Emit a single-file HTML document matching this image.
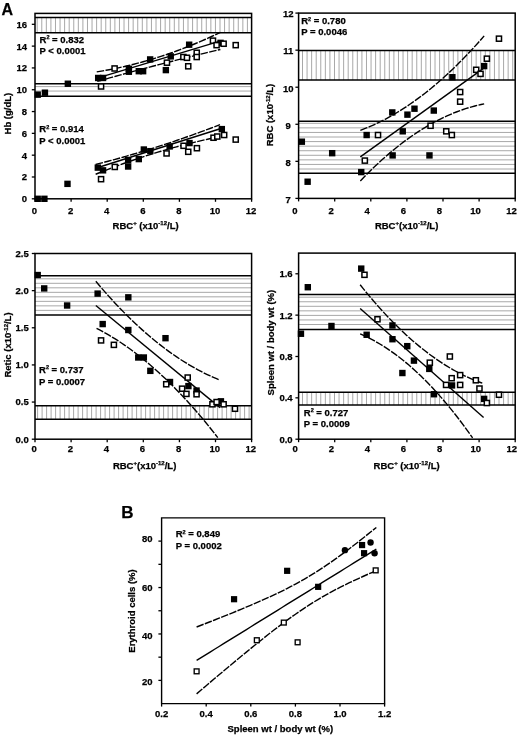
<!DOCTYPE html>
<html><head><meta charset="utf-8"><style>
html,body{margin:0;padding:0;background:#fff;}
svg{display:block;filter:blur(0.3px);}
text{font-family:"Liberation Sans",sans-serif;font-weight:bold;fill:#000;stroke:#000;stroke-width:0.25px;}
</style></head><body>
<svg width="520" height="739" viewBox="0 0 520 739">
<rect width="520" height="739" fill="#fff"/>
<line x1="37.20" y1="17.40" x2="37.20" y2="32.70" stroke="#a8a8a8" stroke-width="1" />
<line x1="41.77" y1="17.40" x2="41.77" y2="32.70" stroke="#a8a8a8" stroke-width="1" />
<line x1="46.34" y1="17.40" x2="46.34" y2="32.70" stroke="#a8a8a8" stroke-width="1" />
<line x1="50.91" y1="17.40" x2="50.91" y2="32.70" stroke="#a8a8a8" stroke-width="1" />
<line x1="55.48" y1="17.40" x2="55.48" y2="32.70" stroke="#a8a8a8" stroke-width="1" />
<line x1="60.05" y1="17.40" x2="60.05" y2="32.70" stroke="#a8a8a8" stroke-width="1" />
<line x1="64.62" y1="17.40" x2="64.62" y2="32.70" stroke="#a8a8a8" stroke-width="1" />
<line x1="69.19" y1="17.40" x2="69.19" y2="32.70" stroke="#a8a8a8" stroke-width="1" />
<line x1="73.76" y1="17.40" x2="73.76" y2="32.70" stroke="#a8a8a8" stroke-width="1" />
<line x1="78.33" y1="17.40" x2="78.33" y2="32.70" stroke="#a8a8a8" stroke-width="1" />
<line x1="82.90" y1="17.40" x2="82.90" y2="32.70" stroke="#a8a8a8" stroke-width="1" />
<line x1="87.47" y1="17.40" x2="87.47" y2="32.70" stroke="#a8a8a8" stroke-width="1" />
<line x1="92.04" y1="17.40" x2="92.04" y2="32.70" stroke="#a8a8a8" stroke-width="1" />
<line x1="96.61" y1="17.40" x2="96.61" y2="32.70" stroke="#a8a8a8" stroke-width="1" />
<line x1="101.18" y1="17.40" x2="101.18" y2="32.70" stroke="#a8a8a8" stroke-width="1" />
<line x1="105.75" y1="17.40" x2="105.75" y2="32.70" stroke="#a8a8a8" stroke-width="1" />
<line x1="110.32" y1="17.40" x2="110.32" y2="32.70" stroke="#a8a8a8" stroke-width="1" />
<line x1="114.89" y1="17.40" x2="114.89" y2="32.70" stroke="#a8a8a8" stroke-width="1" />
<line x1="119.46" y1="17.40" x2="119.46" y2="32.70" stroke="#a8a8a8" stroke-width="1" />
<line x1="124.03" y1="17.40" x2="124.03" y2="32.70" stroke="#a8a8a8" stroke-width="1" />
<line x1="128.60" y1="17.40" x2="128.60" y2="32.70" stroke="#a8a8a8" stroke-width="1" />
<line x1="133.17" y1="17.40" x2="133.17" y2="32.70" stroke="#a8a8a8" stroke-width="1" />
<line x1="137.74" y1="17.40" x2="137.74" y2="32.70" stroke="#a8a8a8" stroke-width="1" />
<line x1="142.31" y1="17.40" x2="142.31" y2="32.70" stroke="#a8a8a8" stroke-width="1" />
<line x1="146.88" y1="17.40" x2="146.88" y2="32.70" stroke="#a8a8a8" stroke-width="1" />
<line x1="151.45" y1="17.40" x2="151.45" y2="32.70" stroke="#a8a8a8" stroke-width="1" />
<line x1="156.02" y1="17.40" x2="156.02" y2="32.70" stroke="#a8a8a8" stroke-width="1" />
<line x1="160.59" y1="17.40" x2="160.59" y2="32.70" stroke="#a8a8a8" stroke-width="1" />
<line x1="165.16" y1="17.40" x2="165.16" y2="32.70" stroke="#a8a8a8" stroke-width="1" />
<line x1="169.73" y1="17.40" x2="169.73" y2="32.70" stroke="#a8a8a8" stroke-width="1" />
<line x1="174.30" y1="17.40" x2="174.30" y2="32.70" stroke="#a8a8a8" stroke-width="1" />
<line x1="178.87" y1="17.40" x2="178.87" y2="32.70" stroke="#a8a8a8" stroke-width="1" />
<line x1="183.44" y1="17.40" x2="183.44" y2="32.70" stroke="#a8a8a8" stroke-width="1" />
<line x1="188.01" y1="17.40" x2="188.01" y2="32.70" stroke="#a8a8a8" stroke-width="1" />
<line x1="192.58" y1="17.40" x2="192.58" y2="32.70" stroke="#a8a8a8" stroke-width="1" />
<line x1="197.15" y1="17.40" x2="197.15" y2="32.70" stroke="#a8a8a8" stroke-width="1" />
<line x1="201.72" y1="17.40" x2="201.72" y2="32.70" stroke="#a8a8a8" stroke-width="1" />
<line x1="206.29" y1="17.40" x2="206.29" y2="32.70" stroke="#a8a8a8" stroke-width="1" />
<line x1="210.86" y1="17.40" x2="210.86" y2="32.70" stroke="#a8a8a8" stroke-width="1" />
<line x1="215.43" y1="17.40" x2="215.43" y2="32.70" stroke="#a8a8a8" stroke-width="1" />
<line x1="220.00" y1="17.40" x2="220.00" y2="32.70" stroke="#a8a8a8" stroke-width="1" />
<line x1="224.57" y1="17.40" x2="224.57" y2="32.70" stroke="#a8a8a8" stroke-width="1" />
<line x1="229.14" y1="17.40" x2="229.14" y2="32.70" stroke="#a8a8a8" stroke-width="1" />
<line x1="233.71" y1="17.40" x2="233.71" y2="32.70" stroke="#a8a8a8" stroke-width="1" />
<line x1="238.28" y1="17.40" x2="238.28" y2="32.70" stroke="#a8a8a8" stroke-width="1" />
<line x1="242.85" y1="17.40" x2="242.85" y2="32.70" stroke="#a8a8a8" stroke-width="1" />
<line x1="247.42" y1="17.40" x2="247.42" y2="32.70" stroke="#a8a8a8" stroke-width="1" />
<line x1="35.00" y1="17.40" x2="251.60" y2="17.40" stroke="#000" stroke-width="1.5" />
<line x1="35.00" y1="32.70" x2="251.60" y2="32.70" stroke="#000" stroke-width="1.5" />
<line x1="35.00" y1="86.60" x2="251.60" y2="86.60" stroke="#a8a8a8" stroke-width="1" />
<line x1="35.00" y1="91.05" x2="251.60" y2="91.05" stroke="#a8a8a8" stroke-width="1" />
<line x1="35.00" y1="83.70" x2="251.60" y2="83.70" stroke="#000" stroke-width="1.5" />
<line x1="35.00" y1="96.30" x2="251.60" y2="96.30" stroke="#000" stroke-width="1.5" />
<line x1="31.80" y1="198.80" x2="35.00" y2="198.80" stroke="#000" stroke-width="1.3" />
<text x="27.00" y="202.20" font-size="9.5" text-anchor="end" >0</text>
<line x1="31.80" y1="176.99" x2="35.00" y2="176.99" stroke="#000" stroke-width="1.3" />
<text x="27.00" y="180.39" font-size="9.5" text-anchor="end" >2</text>
<line x1="31.80" y1="155.18" x2="35.00" y2="155.18" stroke="#000" stroke-width="1.3" />
<text x="27.00" y="158.58" font-size="9.5" text-anchor="end" >4</text>
<line x1="31.80" y1="133.36" x2="35.00" y2="133.36" stroke="#000" stroke-width="1.3" />
<text x="27.00" y="136.76" font-size="9.5" text-anchor="end" >6</text>
<line x1="31.80" y1="111.55" x2="35.00" y2="111.55" stroke="#000" stroke-width="1.3" />
<text x="27.00" y="114.95" font-size="9.5" text-anchor="end" >8</text>
<line x1="31.80" y1="89.74" x2="35.00" y2="89.74" stroke="#000" stroke-width="1.3" />
<text x="27.00" y="93.14" font-size="9.5" text-anchor="end" >10</text>
<line x1="31.80" y1="67.93" x2="35.00" y2="67.93" stroke="#000" stroke-width="1.3" />
<text x="27.00" y="71.33" font-size="9.5" text-anchor="end" >12</text>
<line x1="31.80" y1="46.12" x2="35.00" y2="46.12" stroke="#000" stroke-width="1.3" />
<text x="27.00" y="49.52" font-size="9.5" text-anchor="end" >14</text>
<line x1="31.80" y1="24.31" x2="35.00" y2="24.31" stroke="#000" stroke-width="1.3" />
<text x="27.00" y="27.71" font-size="9.5" text-anchor="end" >16</text>
<line x1="35.00" y1="198.80" x2="35.00" y2="201.80" stroke="#000" stroke-width="1.3" />
<text x="34.50" y="214.30" font-size="9.5" text-anchor="middle" >0</text>
<line x1="71.10" y1="198.80" x2="71.10" y2="201.80" stroke="#000" stroke-width="1.3" />
<text x="70.60" y="214.30" font-size="9.5" text-anchor="middle" >2</text>
<line x1="107.20" y1="198.80" x2="107.20" y2="201.80" stroke="#000" stroke-width="1.3" />
<text x="106.70" y="214.30" font-size="9.5" text-anchor="middle" >4</text>
<line x1="143.30" y1="198.80" x2="143.30" y2="201.80" stroke="#000" stroke-width="1.3" />
<text x="142.80" y="214.30" font-size="9.5" text-anchor="middle" >6</text>
<line x1="179.40" y1="198.80" x2="179.40" y2="201.80" stroke="#000" stroke-width="1.3" />
<text x="178.90" y="214.30" font-size="9.5" text-anchor="middle" >8</text>
<line x1="215.50" y1="198.80" x2="215.50" y2="201.80" stroke="#000" stroke-width="1.3" />
<text x="215.00" y="214.30" font-size="9.5" text-anchor="middle" >10</text>
<line x1="251.60" y1="198.80" x2="251.60" y2="201.80" stroke="#000" stroke-width="1.3" />
<text x="251.10" y="214.30" font-size="9.5" text-anchor="middle" >12</text>
<path d="M96.37,78.40 L220.91,40.88" fill="none" stroke="#000" stroke-width="1.4"/>
<path d="M96.73,71.89 L99.82,71.39 L102.91,70.86 L106.00,70.31 L109.10,69.74 L112.19,69.14 L115.28,68.51 L118.37,67.86 L121.46,67.18 L124.55,66.48 L127.64,65.76 L130.73,65.01 L133.82,64.23 L136.91,63.43 L140.01,62.61 L143.10,61.76 L146.19,60.88 L149.28,59.98 L152.37,59.06 L155.46,58.11 L158.55,57.13 L161.64,56.13 L164.73,55.11 L167.83,54.06 L170.92,52.98 L174.01,51.88 L177.10,50.76 L180.19,49.61 L183.28,48.43 L186.37,47.23 L189.46,46.01 L192.55,44.76 L195.64,43.49 L198.74,42.19 L201.83,40.86 L204.92,39.51 L208.01,38.14 L211.10,36.74 L214.19,35.32 L217.28,33.87 L220.37,32.39" fill="none" stroke="#000" stroke-width="1.4" stroke-dasharray="7.5,1.4"/>
<path d="M97.27,81.41 L100.35,80.53 L103.43,79.66 L106.51,78.80 L109.58,77.94 L112.66,77.08 L115.74,76.22 L118.82,75.37 L121.89,74.53 L124.97,73.68 L128.05,72.84 L131.13,72.01 L134.20,71.18 L137.28,70.35 L140.36,69.53 L143.44,68.71 L146.51,67.89 L149.59,67.08 L152.67,66.27 L155.75,65.47 L158.82,64.67 L161.90,63.87 L164.98,63.08 L168.06,62.29 L171.13,61.50 L174.21,60.72 L177.29,59.94 L180.37,59.17 L183.44,58.40 L186.52,57.63 L189.60,56.87 L192.68,56.11 L195.75,55.36 L198.83,54.61 L201.91,53.86 L204.99,53.12 L208.06,52.38 L211.14,51.64 L214.22,50.91 L217.30,50.18 L220.37,49.46" fill="none" stroke="#000" stroke-width="1.4" stroke-dasharray="7.5,1.4"/>
<path d="M95.65,168.26 L220.91,128.46" fill="none" stroke="#000" stroke-width="1.4"/>
<path d="M95.65,164.45 L98.76,163.66 L101.87,162.86 L104.98,162.05 L108.08,161.23 L111.19,160.40 L114.30,159.56 L117.41,158.71 L120.52,157.85 L123.63,156.97 L126.74,156.09 L129.85,155.20 L132.96,154.29 L136.07,153.38 L139.18,152.45 L142.28,151.51 L145.39,150.56 L148.50,149.61 L151.61,148.64 L154.72,147.66 L157.83,146.67 L160.94,145.67 L164.05,144.66 L167.16,143.64 L170.27,142.60 L173.38,141.56 L176.48,140.51 L179.59,139.44 L182.70,138.37 L185.81,137.28 L188.92,136.19 L192.03,135.08 L195.14,133.96 L198.25,132.83 L201.36,131.70 L204.47,130.55 L207.58,129.39 L210.69,128.22 L213.79,127.03 L216.90,125.84 L220.01,124.64" fill="none" stroke="#000" stroke-width="1.4" stroke-dasharray="7.5,1.4"/>
<path d="M95.65,174.26 L98.76,173.00 L101.87,171.76 L104.98,170.53 L108.08,169.32 L111.19,168.13 L114.30,166.95 L117.41,165.79 L120.52,164.64 L123.63,163.51 L126.74,162.40 L129.85,161.30 L132.96,160.23 L136.07,159.16 L139.18,158.11 L142.28,157.08 L145.39,156.07 L148.50,155.07 L151.61,154.09 L154.72,153.13 L157.83,152.18 L160.94,151.24 L164.05,150.33 L167.16,149.43 L170.27,148.54 L173.38,147.68 L176.48,146.83 L179.59,145.99 L182.70,145.18 L185.81,144.37 L188.92,143.59 L192.03,142.82 L195.14,142.07 L198.25,141.33 L201.36,140.61 L204.47,139.91 L207.58,139.22 L210.69,138.55 L213.79,137.90 L216.90,137.26 L220.01,136.64" fill="none" stroke="#000" stroke-width="1.4" stroke-dasharray="7.5,1.4"/>
<rect x="34.51" y="91.45" width="6.4" height="6.4" fill="#000"/>
<rect x="41.73" y="89.49" width="6.4" height="6.4" fill="#000"/>
<rect x="64.65" y="80.54" width="6.4" height="6.4" fill="#000"/>
<rect x="94.98" y="74.76" width="6.4" height="6.4" fill="#000"/>
<rect x="99.85" y="74.76" width="6.4" height="6.4" fill="#000"/>
<rect x="125.66" y="68.55" width="6.4" height="6.4" fill="#000"/>
<rect x="125.66" y="65.60" width="6.4" height="6.4" fill="#000"/>
<rect x="135.59" y="68.00" width="6.4" height="6.4" fill="#000"/>
<rect x="139.92" y="68.00" width="6.4" height="6.4" fill="#000"/>
<rect x="146.96" y="56.22" width="6.4" height="6.4" fill="#000"/>
<rect x="162.66" y="66.91" width="6.4" height="6.4" fill="#000"/>
<rect x="167.54" y="53.17" width="6.4" height="6.4" fill="#000"/>
<rect x="185.95" y="41.50" width="6.4" height="6.4" fill="#000"/>
<rect x="217.35" y="39.65" width="6.4" height="6.4" fill="#000"/>
<rect x="34.51" y="195.60" width="6.4" height="6.4" fill="#000"/>
<rect x="41.19" y="195.60" width="6.4" height="6.4" fill="#000"/>
<rect x="64.29" y="180.66" width="6.4" height="6.4" fill="#000"/>
<rect x="94.61" y="164.41" width="6.4" height="6.4" fill="#000"/>
<rect x="99.85" y="167.14" width="6.4" height="6.4" fill="#000"/>
<rect x="124.94" y="156.99" width="6.4" height="6.4" fill="#000"/>
<rect x="124.94" y="163.32" width="6.4" height="6.4" fill="#000"/>
<rect x="135.59" y="155.90" width="6.4" height="6.4" fill="#000"/>
<rect x="140.64" y="146.31" width="6.4" height="6.4" fill="#000"/>
<rect x="147.14" y="147.94" width="6.4" height="6.4" fill="#000"/>
<rect x="166.45" y="143.25" width="6.4" height="6.4" fill="#000"/>
<rect x="186.31" y="139.87" width="6.4" height="6.4" fill="#000"/>
<rect x="218.62" y="125.91" width="6.4" height="6.4" fill="#000"/>
<rect x="98.51" y="83.92" width="5.10" height="5.10" fill="#fff" stroke="#000" stroke-width="1.5"/>
<rect x="112.05" y="65.92" width="5.10" height="5.10" fill="#fff" stroke="#000" stroke-width="1.5"/>
<rect x="164.40" y="60.14" width="5.10" height="5.10" fill="#fff" stroke="#000" stroke-width="1.5"/>
<rect x="180.82" y="54.47" width="5.10" height="5.10" fill="#fff" stroke="#000" stroke-width="1.5"/>
<rect x="184.43" y="55.24" width="5.10" height="5.10" fill="#fff" stroke="#000" stroke-width="1.5"/>
<rect x="185.69" y="63.74" width="5.10" height="5.10" fill="#fff" stroke="#000" stroke-width="1.5"/>
<rect x="194.18" y="50.22" width="5.10" height="5.10" fill="#fff" stroke="#000" stroke-width="1.5"/>
<rect x="194.18" y="54.47" width="5.10" height="5.10" fill="#fff" stroke="#000" stroke-width="1.5"/>
<rect x="210.42" y="38.11" width="5.10" height="5.10" fill="#fff" stroke="#000" stroke-width="1.5"/>
<rect x="214.03" y="42.59" width="5.10" height="5.10" fill="#fff" stroke="#000" stroke-width="1.5"/>
<rect x="221.07" y="41.17" width="5.10" height="5.10" fill="#fff" stroke="#000" stroke-width="1.5"/>
<rect x="233.17" y="42.59" width="5.10" height="5.10" fill="#fff" stroke="#000" stroke-width="1.5"/>
<rect x="98.51" y="176.62" width="5.10" height="5.10" fill="#fff" stroke="#000" stroke-width="1.5"/>
<rect x="112.23" y="164.40" width="5.10" height="5.10" fill="#fff" stroke="#000" stroke-width="1.5"/>
<rect x="164.03" y="150.88" width="5.10" height="5.10" fill="#fff" stroke="#000" stroke-width="1.5"/>
<rect x="181.00" y="143.25" width="5.10" height="5.10" fill="#fff" stroke="#000" stroke-width="1.5"/>
<rect x="185.69" y="149.25" width="5.10" height="5.10" fill="#fff" stroke="#000" stroke-width="1.5"/>
<rect x="194.36" y="145.65" width="5.10" height="5.10" fill="#fff" stroke="#000" stroke-width="1.5"/>
<rect x="210.96" y="135.18" width="5.10" height="5.10" fill="#fff" stroke="#000" stroke-width="1.5"/>
<rect x="214.75" y="133.98" width="5.10" height="5.10" fill="#fff" stroke="#000" stroke-width="1.5"/>
<rect x="221.61" y="132.45" width="5.10" height="5.10" fill="#fff" stroke="#000" stroke-width="1.5"/>
<rect x="233.17" y="137.03" width="5.10" height="5.10" fill="#fff" stroke="#000" stroke-width="1.5"/>
<rect x="35.00" y="13.40" width="216.60" height="185.40" fill="none" stroke="#000" stroke-width="1.5"/>
<text x="39.50" y="42.50" font-size="9.5" text-anchor="start" >R<tspan font-size="5.5" dy="-3.2">2</tspan><tspan dy="3.2"> = 0.832</tspan></text>
<text x="39.50" y="53.80" font-size="9.5" text-anchor="start" >P &lt; 0.0001</text>
<text x="39.30" y="132.00" font-size="9.5" text-anchor="start" >R<tspan font-size="5.5" dy="-3.2">2</tspan><tspan dy="3.2"> = 0.914</tspan></text>
<text x="39.30" y="143.70" font-size="9.5" text-anchor="start" >P &lt; 0.0001</text>
<text x="145.60" y="228.80" font-size="9.5" text-anchor="middle" >RBC<tspan font-size="6" dy="-3.5">+</tspan><tspan dy="3.5"> (x10</tspan><tspan font-size="6" dy="-3.5">-12</tspan><tspan dy="3.5">/L)</tspan></text>
<text x="0.00" y="0.00" font-size="9.5" text-anchor="middle" transform="translate(11.1,113.6) rotate(-90)">Hb (g/dL)</text>
<text x="1.50" y="15.20" font-size="16" text-anchor="start" >A</text>
<line x1="302.50" y1="50.50" x2="302.50" y2="80.10" stroke="#a8a8a8" stroke-width="1" />
<line x1="307.07" y1="50.50" x2="307.07" y2="80.10" stroke="#a8a8a8" stroke-width="1" />
<line x1="311.64" y1="50.50" x2="311.64" y2="80.10" stroke="#a8a8a8" stroke-width="1" />
<line x1="316.21" y1="50.50" x2="316.21" y2="80.10" stroke="#a8a8a8" stroke-width="1" />
<line x1="320.78" y1="50.50" x2="320.78" y2="80.10" stroke="#a8a8a8" stroke-width="1" />
<line x1="325.35" y1="50.50" x2="325.35" y2="80.10" stroke="#a8a8a8" stroke-width="1" />
<line x1="329.92" y1="50.50" x2="329.92" y2="80.10" stroke="#a8a8a8" stroke-width="1" />
<line x1="334.49" y1="50.50" x2="334.49" y2="80.10" stroke="#a8a8a8" stroke-width="1" />
<line x1="339.06" y1="50.50" x2="339.06" y2="80.10" stroke="#a8a8a8" stroke-width="1" />
<line x1="343.63" y1="50.50" x2="343.63" y2="80.10" stroke="#a8a8a8" stroke-width="1" />
<line x1="348.20" y1="50.50" x2="348.20" y2="80.10" stroke="#a8a8a8" stroke-width="1" />
<line x1="352.77" y1="50.50" x2="352.77" y2="80.10" stroke="#a8a8a8" stroke-width="1" />
<line x1="357.34" y1="50.50" x2="357.34" y2="80.10" stroke="#a8a8a8" stroke-width="1" />
<line x1="361.91" y1="50.50" x2="361.91" y2="80.10" stroke="#a8a8a8" stroke-width="1" />
<line x1="366.48" y1="50.50" x2="366.48" y2="80.10" stroke="#a8a8a8" stroke-width="1" />
<line x1="371.05" y1="50.50" x2="371.05" y2="80.10" stroke="#a8a8a8" stroke-width="1" />
<line x1="375.62" y1="50.50" x2="375.62" y2="80.10" stroke="#a8a8a8" stroke-width="1" />
<line x1="380.19" y1="50.50" x2="380.19" y2="80.10" stroke="#a8a8a8" stroke-width="1" />
<line x1="384.76" y1="50.50" x2="384.76" y2="80.10" stroke="#a8a8a8" stroke-width="1" />
<line x1="389.33" y1="50.50" x2="389.33" y2="80.10" stroke="#a8a8a8" stroke-width="1" />
<line x1="393.90" y1="50.50" x2="393.90" y2="80.10" stroke="#a8a8a8" stroke-width="1" />
<line x1="398.47" y1="50.50" x2="398.47" y2="80.10" stroke="#a8a8a8" stroke-width="1" />
<line x1="403.04" y1="50.50" x2="403.04" y2="80.10" stroke="#a8a8a8" stroke-width="1" />
<line x1="407.61" y1="50.50" x2="407.61" y2="80.10" stroke="#a8a8a8" stroke-width="1" />
<line x1="412.18" y1="50.50" x2="412.18" y2="80.10" stroke="#a8a8a8" stroke-width="1" />
<line x1="416.75" y1="50.50" x2="416.75" y2="80.10" stroke="#a8a8a8" stroke-width="1" />
<line x1="421.32" y1="50.50" x2="421.32" y2="80.10" stroke="#a8a8a8" stroke-width="1" />
<line x1="425.89" y1="50.50" x2="425.89" y2="80.10" stroke="#a8a8a8" stroke-width="1" />
<line x1="430.46" y1="50.50" x2="430.46" y2="80.10" stroke="#a8a8a8" stroke-width="1" />
<line x1="435.03" y1="50.50" x2="435.03" y2="80.10" stroke="#a8a8a8" stroke-width="1" />
<line x1="439.60" y1="50.50" x2="439.60" y2="80.10" stroke="#a8a8a8" stroke-width="1" />
<line x1="444.17" y1="50.50" x2="444.17" y2="80.10" stroke="#a8a8a8" stroke-width="1" />
<line x1="448.74" y1="50.50" x2="448.74" y2="80.10" stroke="#a8a8a8" stroke-width="1" />
<line x1="453.31" y1="50.50" x2="453.31" y2="80.10" stroke="#a8a8a8" stroke-width="1" />
<line x1="457.88" y1="50.50" x2="457.88" y2="80.10" stroke="#a8a8a8" stroke-width="1" />
<line x1="462.45" y1="50.50" x2="462.45" y2="80.10" stroke="#a8a8a8" stroke-width="1" />
<line x1="467.02" y1="50.50" x2="467.02" y2="80.10" stroke="#a8a8a8" stroke-width="1" />
<line x1="471.59" y1="50.50" x2="471.59" y2="80.10" stroke="#a8a8a8" stroke-width="1" />
<line x1="476.16" y1="50.50" x2="476.16" y2="80.10" stroke="#a8a8a8" stroke-width="1" />
<line x1="480.73" y1="50.50" x2="480.73" y2="80.10" stroke="#a8a8a8" stroke-width="1" />
<line x1="485.30" y1="50.50" x2="485.30" y2="80.10" stroke="#a8a8a8" stroke-width="1" />
<line x1="489.87" y1="50.50" x2="489.87" y2="80.10" stroke="#a8a8a8" stroke-width="1" />
<line x1="494.44" y1="50.50" x2="494.44" y2="80.10" stroke="#a8a8a8" stroke-width="1" />
<line x1="499.01" y1="50.50" x2="499.01" y2="80.10" stroke="#a8a8a8" stroke-width="1" />
<line x1="503.58" y1="50.50" x2="503.58" y2="80.10" stroke="#a8a8a8" stroke-width="1" />
<line x1="508.15" y1="50.50" x2="508.15" y2="80.10" stroke="#a8a8a8" stroke-width="1" />
<line x1="512.72" y1="50.50" x2="512.72" y2="80.10" stroke="#a8a8a8" stroke-width="1" />
<line x1="298.60" y1="50.50" x2="515.20" y2="50.50" stroke="#000" stroke-width="1.5" />
<line x1="298.60" y1="80.10" x2="515.20" y2="80.10" stroke="#000" stroke-width="1.5" />
<line x1="298.60" y1="123.30" x2="515.20" y2="123.30" stroke="#a8a8a8" stroke-width="1" />
<line x1="298.60" y1="127.87" x2="515.20" y2="127.87" stroke="#a8a8a8" stroke-width="1" />
<line x1="298.60" y1="132.44" x2="515.20" y2="132.44" stroke="#a8a8a8" stroke-width="1" />
<line x1="298.60" y1="137.01" x2="515.20" y2="137.01" stroke="#a8a8a8" stroke-width="1" />
<line x1="298.60" y1="141.58" x2="515.20" y2="141.58" stroke="#a8a8a8" stroke-width="1" />
<line x1="298.60" y1="146.15" x2="515.20" y2="146.15" stroke="#a8a8a8" stroke-width="1" />
<line x1="298.60" y1="150.72" x2="515.20" y2="150.72" stroke="#a8a8a8" stroke-width="1" />
<line x1="298.60" y1="155.29" x2="515.20" y2="155.29" stroke="#a8a8a8" stroke-width="1" />
<line x1="298.60" y1="159.86" x2="515.20" y2="159.86" stroke="#a8a8a8" stroke-width="1" />
<line x1="298.60" y1="164.43" x2="515.20" y2="164.43" stroke="#a8a8a8" stroke-width="1" />
<line x1="298.60" y1="169.00" x2="515.20" y2="169.00" stroke="#a8a8a8" stroke-width="1" />
<line x1="298.60" y1="121.30" x2="515.20" y2="121.30" stroke="#000" stroke-width="1.5" />
<line x1="298.60" y1="173.20" x2="515.20" y2="173.20" stroke="#000" stroke-width="1.5" />
<line x1="295.40" y1="198.40" x2="298.60" y2="198.40" stroke="#000" stroke-width="1.3" />
<text x="288.20" y="202.70" font-size="9.5" text-anchor="middle" >7</text>
<line x1="295.40" y1="161.34" x2="298.60" y2="161.34" stroke="#000" stroke-width="1.3" />
<text x="288.20" y="165.64" font-size="9.5" text-anchor="middle" >8</text>
<line x1="295.40" y1="124.28" x2="298.60" y2="124.28" stroke="#000" stroke-width="1.3" />
<text x="288.20" y="128.58" font-size="9.5" text-anchor="middle" >9</text>
<line x1="295.40" y1="87.22" x2="298.60" y2="87.22" stroke="#000" stroke-width="1.3" />
<text x="288.20" y="91.52" font-size="9.5" text-anchor="middle" >10</text>
<line x1="295.40" y1="50.16" x2="298.60" y2="50.16" stroke="#000" stroke-width="1.3" />
<text x="288.20" y="54.46" font-size="9.5" text-anchor="middle" >11</text>
<line x1="295.40" y1="13.10" x2="298.60" y2="13.10" stroke="#000" stroke-width="1.3" />
<text x="288.20" y="17.40" font-size="9.5" text-anchor="middle" >12</text>
<line x1="298.60" y1="198.40" x2="298.60" y2="201.40" stroke="#000" stroke-width="1.3" />
<text x="295.00" y="214.30" font-size="9.5" text-anchor="middle" >0</text>
<line x1="334.70" y1="198.40" x2="334.70" y2="201.40" stroke="#000" stroke-width="1.3" />
<text x="331.10" y="214.30" font-size="9.5" text-anchor="middle" >2</text>
<line x1="370.80" y1="198.40" x2="370.80" y2="201.40" stroke="#000" stroke-width="1.3" />
<text x="367.20" y="214.30" font-size="9.5" text-anchor="middle" >4</text>
<line x1="406.90" y1="198.40" x2="406.90" y2="201.40" stroke="#000" stroke-width="1.3" />
<text x="403.30" y="214.30" font-size="9.5" text-anchor="middle" >6</text>
<line x1="443.00" y1="198.40" x2="443.00" y2="201.40" stroke="#000" stroke-width="1.3" />
<text x="439.40" y="214.30" font-size="9.5" text-anchor="middle" >8</text>
<line x1="479.10" y1="198.40" x2="479.10" y2="201.40" stroke="#000" stroke-width="1.3" />
<text x="475.50" y="214.30" font-size="9.5" text-anchor="middle" >10</text>
<line x1="515.20" y1="198.40" x2="515.20" y2="201.40" stroke="#000" stroke-width="1.3" />
<text x="511.60" y="214.30" font-size="9.5" text-anchor="middle" >12</text>
<path d="M360.33,156.89 L484.52,67.58" fill="none" stroke="#000" stroke-width="1.4"/>
<path d="M360.33,130.31 L363.43,129.14 L366.52,127.92 L369.62,126.63 L372.71,125.28 L375.81,123.86 L378.90,122.39 L382.00,120.86 L385.10,119.26 L388.19,117.60 L391.29,115.89 L394.38,114.11 L397.48,112.27 L400.57,110.37 L403.67,108.40 L406.76,106.38 L409.86,104.29 L412.96,102.15 L416.05,99.94 L419.15,97.67 L422.24,95.34 L425.34,92.95 L428.43,90.50 L431.53,87.99 L434.62,85.41 L437.72,82.78 L440.82,80.08 L443.91,77.32 L447.01,74.50 L450.10,71.62 L453.20,68.68 L456.29,65.68 L459.39,62.61 L462.48,59.49 L465.58,56.30 L468.68,53.06 L471.77,49.75 L474.87,46.38 L477.96,42.95 L481.06,39.45 L484.15,35.90" fill="none" stroke="#000" stroke-width="1.4" stroke-dasharray="7.5,1.4"/>
<path d="M360.33,180.90 L363.43,177.69 L366.52,174.54 L369.62,171.46 L372.71,168.45 L375.81,165.50 L378.90,162.62 L382.00,159.80 L385.10,157.05 L388.19,154.36 L391.29,151.74 L394.38,149.19 L397.48,146.70 L400.57,144.28 L403.67,141.93 L406.76,139.64 L409.86,137.42 L412.96,135.26 L416.05,133.17 L419.15,131.14 L422.24,129.18 L425.34,127.29 L428.43,125.46 L431.53,123.70 L434.62,122.01 L437.72,120.38 L440.82,118.81 L443.91,117.32 L447.01,115.89 L450.10,114.52 L453.20,113.22 L456.29,111.99 L459.39,110.82 L462.48,109.72 L465.58,108.69 L468.68,107.72 L471.77,106.81 L474.87,105.98 L477.96,105.20 L481.06,104.50 L484.15,103.86" fill="none" stroke="#000" stroke-width="1.4" stroke-dasharray="7.5,1.4"/>
<rect x="298.65" y="138.50" width="6.4" height="6.4" fill="#000"/>
<rect x="304.43" y="178.52" width="6.4" height="6.4" fill="#000"/>
<rect x="328.97" y="149.99" width="6.4" height="6.4" fill="#000"/>
<rect x="358.03" y="168.89" width="6.4" height="6.4" fill="#000"/>
<rect x="363.45" y="131.83" width="6.4" height="6.4" fill="#000"/>
<rect x="389.44" y="152.21" width="6.4" height="6.4" fill="#000"/>
<rect x="389.08" y="109.22" width="6.4" height="6.4" fill="#000"/>
<rect x="399.55" y="128.12" width="6.4" height="6.4" fill="#000"/>
<rect x="404.24" y="111.44" width="6.4" height="6.4" fill="#000"/>
<rect x="411.28" y="105.51" width="6.4" height="6.4" fill="#000"/>
<rect x="426.26" y="152.21" width="6.4" height="6.4" fill="#000"/>
<rect x="430.59" y="107.37" width="6.4" height="6.4" fill="#000"/>
<rect x="449.19" y="74.01" width="6.4" height="6.4" fill="#000"/>
<rect x="480.95" y="62.90" width="6.4" height="6.4" fill="#000"/>
<rect x="362.29" y="158.05" width="5.10" height="5.10" fill="#fff" stroke="#000" stroke-width="1.5"/>
<rect x="375.47" y="132.48" width="5.10" height="5.10" fill="#fff" stroke="#000" stroke-width="1.5"/>
<rect x="428.00" y="123.21" width="5.10" height="5.10" fill="#fff" stroke="#000" stroke-width="1.5"/>
<rect x="443.70" y="128.77" width="5.10" height="5.10" fill="#fff" stroke="#000" stroke-width="1.5"/>
<rect x="449.29" y="132.48" width="5.10" height="5.10" fill="#fff" stroke="#000" stroke-width="1.5"/>
<rect x="457.60" y="89.49" width="5.10" height="5.10" fill="#fff" stroke="#000" stroke-width="1.5"/>
<rect x="457.60" y="99.12" width="5.10" height="5.10" fill="#fff" stroke="#000" stroke-width="1.5"/>
<rect x="473.66" y="67.25" width="5.10" height="5.10" fill="#fff" stroke="#000" stroke-width="1.5"/>
<rect x="477.99" y="71.33" width="5.10" height="5.10" fill="#fff" stroke="#000" stroke-width="1.5"/>
<rect x="484.31" y="56.13" width="5.10" height="5.10" fill="#fff" stroke="#000" stroke-width="1.5"/>
<rect x="496.41" y="36.12" width="5.10" height="5.10" fill="#fff" stroke="#000" stroke-width="1.5"/>
<rect x="298.60" y="13.10" width="216.60" height="185.30" fill="none" stroke="#000" stroke-width="1.5"/>
<text x="301.20" y="23.80" font-size="9.5" text-anchor="start" >R<tspan font-size="5.5" dy="-3.2">2</tspan><tspan dy="3.2"> = 0.780</tspan></text>
<text x="301.20" y="34.80" font-size="9.5" text-anchor="start" >P = 0.0046</text>
<text x="406.60" y="228.80" font-size="9.5" text-anchor="middle" >RBC<tspan font-size="6" dy="-3.5">+</tspan><tspan dy="3.5">(x10</tspan><tspan font-size="6" dy="-3.5">-12</tspan><tspan dy="3.5">/L)</tspan></text>
<text x="0.00" y="0.00" font-size="9.5" text-anchor="middle" transform="translate(273.4,115) rotate(-90)">RBC (x10<tspan font-size="6" dy="-3.5">-12</tspan><tspan dy="3.5">/L)</tspan></text>
<line x1="35.00" y1="278.80" x2="251.60" y2="278.80" stroke="#a8a8a8" stroke-width="1" />
<line x1="35.00" y1="283.31" x2="251.60" y2="283.31" stroke="#a8a8a8" stroke-width="1" />
<line x1="35.00" y1="287.82" x2="251.60" y2="287.82" stroke="#a8a8a8" stroke-width="1" />
<line x1="35.00" y1="292.33" x2="251.60" y2="292.33" stroke="#a8a8a8" stroke-width="1" />
<line x1="35.00" y1="296.84" x2="251.60" y2="296.84" stroke="#a8a8a8" stroke-width="1" />
<line x1="35.00" y1="301.35" x2="251.60" y2="301.35" stroke="#a8a8a8" stroke-width="1" />
<line x1="35.00" y1="305.86" x2="251.60" y2="305.86" stroke="#a8a8a8" stroke-width="1" />
<line x1="35.00" y1="310.37" x2="251.60" y2="310.37" stroke="#a8a8a8" stroke-width="1" />
<line x1="35.00" y1="275.80" x2="251.60" y2="275.80" stroke="#000" stroke-width="1.5" />
<line x1="35.00" y1="315.00" x2="251.60" y2="315.00" stroke="#000" stroke-width="1.5" />
<line x1="37.60" y1="405.80" x2="37.60" y2="419.30" stroke="#a8a8a8" stroke-width="1" />
<line x1="42.10" y1="405.80" x2="42.10" y2="419.30" stroke="#a8a8a8" stroke-width="1" />
<line x1="46.60" y1="405.80" x2="46.60" y2="419.30" stroke="#a8a8a8" stroke-width="1" />
<line x1="51.10" y1="405.80" x2="51.10" y2="419.30" stroke="#a8a8a8" stroke-width="1" />
<line x1="55.60" y1="405.80" x2="55.60" y2="419.30" stroke="#a8a8a8" stroke-width="1" />
<line x1="60.10" y1="405.80" x2="60.10" y2="419.30" stroke="#a8a8a8" stroke-width="1" />
<line x1="64.60" y1="405.80" x2="64.60" y2="419.30" stroke="#a8a8a8" stroke-width="1" />
<line x1="69.10" y1="405.80" x2="69.10" y2="419.30" stroke="#a8a8a8" stroke-width="1" />
<line x1="73.60" y1="405.80" x2="73.60" y2="419.30" stroke="#a8a8a8" stroke-width="1" />
<line x1="78.10" y1="405.80" x2="78.10" y2="419.30" stroke="#a8a8a8" stroke-width="1" />
<line x1="82.60" y1="405.80" x2="82.60" y2="419.30" stroke="#a8a8a8" stroke-width="1" />
<line x1="87.10" y1="405.80" x2="87.10" y2="419.30" stroke="#a8a8a8" stroke-width="1" />
<line x1="91.60" y1="405.80" x2="91.60" y2="419.30" stroke="#a8a8a8" stroke-width="1" />
<line x1="96.10" y1="405.80" x2="96.10" y2="419.30" stroke="#a8a8a8" stroke-width="1" />
<line x1="100.60" y1="405.80" x2="100.60" y2="419.30" stroke="#a8a8a8" stroke-width="1" />
<line x1="105.10" y1="405.80" x2="105.10" y2="419.30" stroke="#a8a8a8" stroke-width="1" />
<line x1="109.60" y1="405.80" x2="109.60" y2="419.30" stroke="#a8a8a8" stroke-width="1" />
<line x1="114.10" y1="405.80" x2="114.10" y2="419.30" stroke="#a8a8a8" stroke-width="1" />
<line x1="118.60" y1="405.80" x2="118.60" y2="419.30" stroke="#a8a8a8" stroke-width="1" />
<line x1="123.10" y1="405.80" x2="123.10" y2="419.30" stroke="#a8a8a8" stroke-width="1" />
<line x1="127.60" y1="405.80" x2="127.60" y2="419.30" stroke="#a8a8a8" stroke-width="1" />
<line x1="132.10" y1="405.80" x2="132.10" y2="419.30" stroke="#a8a8a8" stroke-width="1" />
<line x1="136.60" y1="405.80" x2="136.60" y2="419.30" stroke="#a8a8a8" stroke-width="1" />
<line x1="141.10" y1="405.80" x2="141.10" y2="419.30" stroke="#a8a8a8" stroke-width="1" />
<line x1="145.60" y1="405.80" x2="145.60" y2="419.30" stroke="#a8a8a8" stroke-width="1" />
<line x1="150.10" y1="405.80" x2="150.10" y2="419.30" stroke="#a8a8a8" stroke-width="1" />
<line x1="154.60" y1="405.80" x2="154.60" y2="419.30" stroke="#a8a8a8" stroke-width="1" />
<line x1="159.10" y1="405.80" x2="159.10" y2="419.30" stroke="#a8a8a8" stroke-width="1" />
<line x1="163.60" y1="405.80" x2="163.60" y2="419.30" stroke="#a8a8a8" stroke-width="1" />
<line x1="168.10" y1="405.80" x2="168.10" y2="419.30" stroke="#a8a8a8" stroke-width="1" />
<line x1="172.60" y1="405.80" x2="172.60" y2="419.30" stroke="#a8a8a8" stroke-width="1" />
<line x1="177.10" y1="405.80" x2="177.10" y2="419.30" stroke="#a8a8a8" stroke-width="1" />
<line x1="181.60" y1="405.80" x2="181.60" y2="419.30" stroke="#a8a8a8" stroke-width="1" />
<line x1="186.10" y1="405.80" x2="186.10" y2="419.30" stroke="#a8a8a8" stroke-width="1" />
<line x1="190.60" y1="405.80" x2="190.60" y2="419.30" stroke="#a8a8a8" stroke-width="1" />
<line x1="195.10" y1="405.80" x2="195.10" y2="419.30" stroke="#a8a8a8" stroke-width="1" />
<line x1="199.60" y1="405.80" x2="199.60" y2="419.30" stroke="#a8a8a8" stroke-width="1" />
<line x1="204.10" y1="405.80" x2="204.10" y2="419.30" stroke="#a8a8a8" stroke-width="1" />
<line x1="208.60" y1="405.80" x2="208.60" y2="419.30" stroke="#a8a8a8" stroke-width="1" />
<line x1="213.10" y1="405.80" x2="213.10" y2="419.30" stroke="#a8a8a8" stroke-width="1" />
<line x1="217.60" y1="405.80" x2="217.60" y2="419.30" stroke="#a8a8a8" stroke-width="1" />
<line x1="222.10" y1="405.80" x2="222.10" y2="419.30" stroke="#a8a8a8" stroke-width="1" />
<line x1="226.60" y1="405.80" x2="226.60" y2="419.30" stroke="#a8a8a8" stroke-width="1" />
<line x1="231.10" y1="405.80" x2="231.10" y2="419.30" stroke="#a8a8a8" stroke-width="1" />
<line x1="235.60" y1="405.80" x2="235.60" y2="419.30" stroke="#a8a8a8" stroke-width="1" />
<line x1="240.10" y1="405.80" x2="240.10" y2="419.30" stroke="#a8a8a8" stroke-width="1" />
<line x1="244.60" y1="405.80" x2="244.60" y2="419.30" stroke="#a8a8a8" stroke-width="1" />
<line x1="249.10" y1="405.80" x2="249.10" y2="419.30" stroke="#a8a8a8" stroke-width="1" />
<line x1="35.00" y1="405.80" x2="251.60" y2="405.80" stroke="#000" stroke-width="1.5" />
<line x1="35.00" y1="419.30" x2="251.60" y2="419.30" stroke="#000" stroke-width="1.5" />
<line x1="31.80" y1="439.20" x2="35.00" y2="439.20" stroke="#000" stroke-width="1.3" />
<text x="28.80" y="442.60" font-size="9.5" text-anchor="end" >0.0</text>
<line x1="31.80" y1="402.06" x2="35.00" y2="402.06" stroke="#000" stroke-width="1.3" />
<text x="28.80" y="405.46" font-size="9.5" text-anchor="end" >0.5</text>
<line x1="31.80" y1="364.92" x2="35.00" y2="364.92" stroke="#000" stroke-width="1.3" />
<text x="28.80" y="368.32" font-size="9.5" text-anchor="end" >1.0</text>
<line x1="31.80" y1="327.78" x2="35.00" y2="327.78" stroke="#000" stroke-width="1.3" />
<text x="28.80" y="331.18" font-size="9.5" text-anchor="end" >1.5</text>
<line x1="31.80" y1="290.64" x2="35.00" y2="290.64" stroke="#000" stroke-width="1.3" />
<text x="28.80" y="294.04" font-size="9.5" text-anchor="end" >2.0</text>
<line x1="31.80" y1="253.50" x2="35.00" y2="253.50" stroke="#000" stroke-width="1.3" />
<text x="28.80" y="256.90" font-size="9.5" text-anchor="end" >2.5</text>
<line x1="35.00" y1="439.20" x2="35.00" y2="442.20" stroke="#000" stroke-width="1.3" />
<text x="34.20" y="451.80" font-size="9.5" text-anchor="middle" >0</text>
<line x1="71.10" y1="439.20" x2="71.10" y2="442.20" stroke="#000" stroke-width="1.3" />
<text x="70.30" y="451.80" font-size="9.5" text-anchor="middle" >2</text>
<line x1="107.20" y1="439.20" x2="107.20" y2="442.20" stroke="#000" stroke-width="1.3" />
<text x="106.40" y="451.80" font-size="9.5" text-anchor="middle" >4</text>
<line x1="143.30" y1="439.20" x2="143.30" y2="442.20" stroke="#000" stroke-width="1.3" />
<text x="142.50" y="451.80" font-size="9.5" text-anchor="middle" >6</text>
<line x1="179.40" y1="439.20" x2="179.40" y2="442.20" stroke="#000" stroke-width="1.3" />
<text x="178.60" y="451.80" font-size="9.5" text-anchor="middle" >8</text>
<line x1="215.50" y1="439.20" x2="215.50" y2="442.20" stroke="#000" stroke-width="1.3" />
<text x="214.70" y="451.80" font-size="9.5" text-anchor="middle" >10</text>
<line x1="251.60" y1="439.20" x2="251.60" y2="442.20" stroke="#000" stroke-width="1.3" />
<text x="250.80" y="451.80" font-size="9.5" text-anchor="middle" >12</text>
<path d="M95.83,305.50 L220.01,407.63" fill="none" stroke="#000" stroke-width="1.4"/>
<path d="M95.83,281.32 L98.92,284.99 L102.02,288.60 L105.12,292.14 L108.21,295.63 L111.31,299.05 L114.40,302.41 L117.50,305.71 L120.59,308.95 L123.69,312.12 L126.78,315.23 L129.88,318.29 L132.98,321.28 L136.07,324.21 L139.17,327.07 L142.26,329.88 L145.36,332.62 L148.45,335.30 L151.55,337.92 L154.64,340.48 L157.74,342.98 L160.84,345.41 L163.93,347.79 L167.03,350.10 L170.12,352.35 L173.22,354.53 L176.31,356.66 L179.41,358.72 L182.50,360.73 L185.60,362.67 L188.70,364.55 L191.79,366.36 L194.89,368.12 L197.98,369.81 L201.08,371.45 L204.17,373.02 L207.27,374.53 L210.36,375.97 L213.46,377.36 L216.56,378.68 L219.65,379.94" fill="none" stroke="#000" stroke-width="1.4" stroke-dasharray="7.5,1.4"/>
<path d="M96.55,328.31 L99.66,329.93 L102.77,331.61 L105.88,333.35 L108.99,335.16 L112.10,337.03 L115.21,338.96 L118.31,340.95 L121.42,343.00 L124.53,345.12 L127.64,347.30 L130.75,349.54 L133.86,351.85 L136.97,354.21 L140.08,356.64 L143.19,359.13 L146.30,361.69 L149.41,364.30 L152.51,366.98 L155.62,369.72 L158.73,372.52 L161.84,375.39 L164.95,378.32 L168.06,381.31 L171.17,384.36 L174.28,387.47 L177.39,390.65 L180.50,393.89 L183.61,397.19 L186.71,400.56 L189.82,403.98 L192.93,407.47 L196.04,411.02 L199.15,414.64 L202.26,418.31 L205.37,422.05 L208.48,425.85 L211.59,429.71 L214.70,433.64 L217.81,437.63" fill="none" stroke="#000" stroke-width="1.4" stroke-dasharray="7.5,1.4"/>
<rect x="34.51" y="271.84" width="6.4" height="6.4" fill="#000"/>
<rect x="41.01" y="285.21" width="6.4" height="6.4" fill="#000"/>
<rect x="63.93" y="302.30" width="6.4" height="6.4" fill="#000"/>
<rect x="94.43" y="290.41" width="6.4" height="6.4" fill="#000"/>
<rect x="125.12" y="294.13" width="6.4" height="6.4" fill="#000"/>
<rect x="99.49" y="320.87" width="6.4" height="6.4" fill="#000"/>
<rect x="125.12" y="326.81" width="6.4" height="6.4" fill="#000"/>
<rect x="162.30" y="334.98" width="6.4" height="6.4" fill="#000"/>
<rect x="135.05" y="354.29" width="6.4" height="6.4" fill="#000"/>
<rect x="140.64" y="354.29" width="6.4" height="6.4" fill="#000"/>
<rect x="147.14" y="367.66" width="6.4" height="6.4" fill="#000"/>
<rect x="166.81" y="378.80" width="6.4" height="6.4" fill="#000"/>
<rect x="185.22" y="382.89" width="6.4" height="6.4" fill="#000"/>
<rect x="193.35" y="387.35" width="6.4" height="6.4" fill="#000"/>
<rect x="217.72" y="398.12" width="6.4" height="6.4" fill="#000"/>
<rect x="98.51" y="337.86" width="5.10" height="5.10" fill="#fff" stroke="#000" stroke-width="1.5"/>
<rect x="111.33" y="342.31" width="5.10" height="5.10" fill="#fff" stroke="#000" stroke-width="1.5"/>
<rect x="163.67" y="381.68" width="5.10" height="5.10" fill="#fff" stroke="#000" stroke-width="1.5"/>
<rect x="185.15" y="375.00" width="5.10" height="5.10" fill="#fff" stroke="#000" stroke-width="1.5"/>
<rect x="179.56" y="386.14" width="5.10" height="5.10" fill="#fff" stroke="#000" stroke-width="1.5"/>
<rect x="183.89" y="391.34" width="5.10" height="5.10" fill="#fff" stroke="#000" stroke-width="1.5"/>
<rect x="194.00" y="391.71" width="5.10" height="5.10" fill="#fff" stroke="#000" stroke-width="1.5"/>
<rect x="209.88" y="401.74" width="5.10" height="5.10" fill="#fff" stroke="#000" stroke-width="1.5"/>
<rect x="214.03" y="399.51" width="5.10" height="5.10" fill="#fff" stroke="#000" stroke-width="1.5"/>
<rect x="221.07" y="401.74" width="5.10" height="5.10" fill="#fff" stroke="#000" stroke-width="1.5"/>
<rect x="232.44" y="406.20" width="5.10" height="5.10" fill="#fff" stroke="#000" stroke-width="1.5"/>
<rect x="35.00" y="253.50" width="216.60" height="185.70" fill="none" stroke="#000" stroke-width="1.5"/>
<text x="39.00" y="372.50" font-size="9.5" text-anchor="start" >R<tspan font-size="5.5" dy="-3.2">2</tspan><tspan dy="3.2"> = 0.737</tspan></text>
<text x="39.00" y="385.00" font-size="9.5" text-anchor="start" >P = 0.0007</text>
<text x="144.60" y="468.80" font-size="9.5" text-anchor="middle" >RBC<tspan font-size="6" dy="-3.5">+</tspan><tspan dy="3.5">(x10</tspan><tspan font-size="6" dy="-3.5">-12</tspan><tspan dy="3.5">/L)</tspan></text>
<text x="0.00" y="0.00" font-size="9.5" text-anchor="middle" transform="translate(11.2,345) rotate(-90)">Retic (x10<tspan font-size="6" dy="-3.5">-12</tspan><tspan dy="3.5">/L)</tspan></text>
<line x1="298.60" y1="297.20" x2="515.20" y2="297.20" stroke="#a8a8a8" stroke-width="1" />
<line x1="298.60" y1="301.75" x2="515.20" y2="301.75" stroke="#a8a8a8" stroke-width="1" />
<line x1="298.60" y1="306.30" x2="515.20" y2="306.30" stroke="#a8a8a8" stroke-width="1" />
<line x1="298.60" y1="310.85" x2="515.20" y2="310.85" stroke="#a8a8a8" stroke-width="1" />
<line x1="298.60" y1="315.40" x2="515.20" y2="315.40" stroke="#a8a8a8" stroke-width="1" />
<line x1="298.60" y1="319.95" x2="515.20" y2="319.95" stroke="#a8a8a8" stroke-width="1" />
<line x1="298.60" y1="324.50" x2="515.20" y2="324.50" stroke="#a8a8a8" stroke-width="1" />
<line x1="298.60" y1="294.40" x2="515.20" y2="294.40" stroke="#000" stroke-width="1.5" />
<line x1="298.60" y1="329.40" x2="515.20" y2="329.40" stroke="#000" stroke-width="1.5" />
<line x1="302.50" y1="392.20" x2="302.50" y2="405.10" stroke="#a8a8a8" stroke-width="1" />
<line x1="307.07" y1="392.20" x2="307.07" y2="405.10" stroke="#a8a8a8" stroke-width="1" />
<line x1="311.64" y1="392.20" x2="311.64" y2="405.10" stroke="#a8a8a8" stroke-width="1" />
<line x1="316.21" y1="392.20" x2="316.21" y2="405.10" stroke="#a8a8a8" stroke-width="1" />
<line x1="320.78" y1="392.20" x2="320.78" y2="405.10" stroke="#a8a8a8" stroke-width="1" />
<line x1="325.35" y1="392.20" x2="325.35" y2="405.10" stroke="#a8a8a8" stroke-width="1" />
<line x1="329.92" y1="392.20" x2="329.92" y2="405.10" stroke="#a8a8a8" stroke-width="1" />
<line x1="334.49" y1="392.20" x2="334.49" y2="405.10" stroke="#a8a8a8" stroke-width="1" />
<line x1="339.06" y1="392.20" x2="339.06" y2="405.10" stroke="#a8a8a8" stroke-width="1" />
<line x1="343.63" y1="392.20" x2="343.63" y2="405.10" stroke="#a8a8a8" stroke-width="1" />
<line x1="348.20" y1="392.20" x2="348.20" y2="405.10" stroke="#a8a8a8" stroke-width="1" />
<line x1="352.77" y1="392.20" x2="352.77" y2="405.10" stroke="#a8a8a8" stroke-width="1" />
<line x1="357.34" y1="392.20" x2="357.34" y2="405.10" stroke="#a8a8a8" stroke-width="1" />
<line x1="361.91" y1="392.20" x2="361.91" y2="405.10" stroke="#a8a8a8" stroke-width="1" />
<line x1="366.48" y1="392.20" x2="366.48" y2="405.10" stroke="#a8a8a8" stroke-width="1" />
<line x1="371.05" y1="392.20" x2="371.05" y2="405.10" stroke="#a8a8a8" stroke-width="1" />
<line x1="375.62" y1="392.20" x2="375.62" y2="405.10" stroke="#a8a8a8" stroke-width="1" />
<line x1="380.19" y1="392.20" x2="380.19" y2="405.10" stroke="#a8a8a8" stroke-width="1" />
<line x1="384.76" y1="392.20" x2="384.76" y2="405.10" stroke="#a8a8a8" stroke-width="1" />
<line x1="389.33" y1="392.20" x2="389.33" y2="405.10" stroke="#a8a8a8" stroke-width="1" />
<line x1="393.90" y1="392.20" x2="393.90" y2="405.10" stroke="#a8a8a8" stroke-width="1" />
<line x1="398.47" y1="392.20" x2="398.47" y2="405.10" stroke="#a8a8a8" stroke-width="1" />
<line x1="403.04" y1="392.20" x2="403.04" y2="405.10" stroke="#a8a8a8" stroke-width="1" />
<line x1="407.61" y1="392.20" x2="407.61" y2="405.10" stroke="#a8a8a8" stroke-width="1" />
<line x1="412.18" y1="392.20" x2="412.18" y2="405.10" stroke="#a8a8a8" stroke-width="1" />
<line x1="416.75" y1="392.20" x2="416.75" y2="405.10" stroke="#a8a8a8" stroke-width="1" />
<line x1="421.32" y1="392.20" x2="421.32" y2="405.10" stroke="#a8a8a8" stroke-width="1" />
<line x1="425.89" y1="392.20" x2="425.89" y2="405.10" stroke="#a8a8a8" stroke-width="1" />
<line x1="430.46" y1="392.20" x2="430.46" y2="405.10" stroke="#a8a8a8" stroke-width="1" />
<line x1="435.03" y1="392.20" x2="435.03" y2="405.10" stroke="#a8a8a8" stroke-width="1" />
<line x1="439.60" y1="392.20" x2="439.60" y2="405.10" stroke="#a8a8a8" stroke-width="1" />
<line x1="444.17" y1="392.20" x2="444.17" y2="405.10" stroke="#a8a8a8" stroke-width="1" />
<line x1="448.74" y1="392.20" x2="448.74" y2="405.10" stroke="#a8a8a8" stroke-width="1" />
<line x1="453.31" y1="392.20" x2="453.31" y2="405.10" stroke="#a8a8a8" stroke-width="1" />
<line x1="457.88" y1="392.20" x2="457.88" y2="405.10" stroke="#a8a8a8" stroke-width="1" />
<line x1="462.45" y1="392.20" x2="462.45" y2="405.10" stroke="#a8a8a8" stroke-width="1" />
<line x1="467.02" y1="392.20" x2="467.02" y2="405.10" stroke="#a8a8a8" stroke-width="1" />
<line x1="471.59" y1="392.20" x2="471.59" y2="405.10" stroke="#a8a8a8" stroke-width="1" />
<line x1="476.16" y1="392.20" x2="476.16" y2="405.10" stroke="#a8a8a8" stroke-width="1" />
<line x1="480.73" y1="392.20" x2="480.73" y2="405.10" stroke="#a8a8a8" stroke-width="1" />
<line x1="485.30" y1="392.20" x2="485.30" y2="405.10" stroke="#a8a8a8" stroke-width="1" />
<line x1="489.87" y1="392.20" x2="489.87" y2="405.10" stroke="#a8a8a8" stroke-width="1" />
<line x1="494.44" y1="392.20" x2="494.44" y2="405.10" stroke="#a8a8a8" stroke-width="1" />
<line x1="499.01" y1="392.20" x2="499.01" y2="405.10" stroke="#a8a8a8" stroke-width="1" />
<line x1="503.58" y1="392.20" x2="503.58" y2="405.10" stroke="#a8a8a8" stroke-width="1" />
<line x1="508.15" y1="392.20" x2="508.15" y2="405.10" stroke="#a8a8a8" stroke-width="1" />
<line x1="512.72" y1="392.20" x2="512.72" y2="405.10" stroke="#a8a8a8" stroke-width="1" />
<line x1="298.60" y1="392.20" x2="515.20" y2="392.20" stroke="#000" stroke-width="1.5" />
<line x1="298.60" y1="405.10" x2="515.20" y2="405.10" stroke="#000" stroke-width="1.5" />
<line x1="295.40" y1="439.20" x2="298.60" y2="439.20" stroke="#000" stroke-width="1.3" />
<text x="292.60" y="442.60" font-size="9.5" text-anchor="end" >0.0</text>
<line x1="295.40" y1="397.84" x2="298.60" y2="397.84" stroke="#000" stroke-width="1.3" />
<text x="292.60" y="401.24" font-size="9.5" text-anchor="end" >0.4</text>
<line x1="295.40" y1="356.49" x2="298.60" y2="356.49" stroke="#000" stroke-width="1.3" />
<text x="292.60" y="359.89" font-size="9.5" text-anchor="end" >0.8</text>
<line x1="295.40" y1="315.13" x2="298.60" y2="315.13" stroke="#000" stroke-width="1.3" />
<text x="292.60" y="318.53" font-size="9.5" text-anchor="end" >1.2</text>
<line x1="295.40" y1="273.78" x2="298.60" y2="273.78" stroke="#000" stroke-width="1.3" />
<text x="292.60" y="277.18" font-size="9.5" text-anchor="end" >1.6</text>
<line x1="298.60" y1="439.20" x2="298.60" y2="442.20" stroke="#000" stroke-width="1.3" />
<text x="295.20" y="451.80" font-size="9.5" text-anchor="middle" >0</text>
<line x1="334.70" y1="439.20" x2="334.70" y2="442.20" stroke="#000" stroke-width="1.3" />
<text x="331.30" y="451.80" font-size="9.5" text-anchor="middle" >2</text>
<line x1="370.80" y1="439.20" x2="370.80" y2="442.20" stroke="#000" stroke-width="1.3" />
<text x="367.40" y="451.80" font-size="9.5" text-anchor="middle" >4</text>
<line x1="406.90" y1="439.20" x2="406.90" y2="442.20" stroke="#000" stroke-width="1.3" />
<text x="403.50" y="451.80" font-size="9.5" text-anchor="middle" >6</text>
<line x1="443.00" y1="439.20" x2="443.00" y2="442.20" stroke="#000" stroke-width="1.3" />
<text x="439.60" y="451.80" font-size="9.5" text-anchor="middle" >8</text>
<line x1="479.10" y1="439.20" x2="479.10" y2="442.20" stroke="#000" stroke-width="1.3" />
<text x="475.70" y="451.80" font-size="9.5" text-anchor="middle" >10</text>
<line x1="515.20" y1="439.20" x2="515.20" y2="442.20" stroke="#000" stroke-width="1.3" />
<text x="511.80" y="451.80" font-size="9.5" text-anchor="middle" >12</text>
<path d="M360.15,308.52 L483.61,417.49" fill="none" stroke="#000" stroke-width="1.4"/>
<path d="M360.15,284.81 L363.24,288.66 L366.32,292.44 L369.41,296.15 L372.50,299.79 L375.58,303.36 L378.67,306.86 L381.76,310.28 L384.84,313.64 L387.93,316.92 L391.02,320.14 L394.10,323.28 L397.19,326.35 L400.28,329.35 L403.36,332.28 L406.45,335.14 L409.54,337.93 L412.62,340.65 L415.71,343.30 L418.79,345.87 L421.88,348.38 L424.97,350.81 L428.05,353.18 L431.14,355.47 L434.23,357.69 L437.31,359.84 L440.40,361.92 L443.49,363.93 L446.57,365.87 L449.66,367.74 L452.75,369.53 L455.83,371.26 L458.92,372.91 L462.01,374.50 L465.09,376.01 L468.18,377.45 L471.27,378.82 L474.35,380.12 L477.44,381.35 L480.53,382.51 L483.61,383.60" fill="none" stroke="#000" stroke-width="1.4" stroke-dasharray="7.5,1.4"/>
<path d="M360.15,333.95 L363.03,335.20 L365.92,336.52 L368.80,337.92 L371.68,339.40 L374.57,340.94 L377.45,342.57 L380.33,344.27 L383.22,346.04 L386.10,347.88 L388.99,349.81 L391.87,351.80 L394.75,353.87 L397.64,356.02 L400.52,358.23 L403.40,360.53 L406.29,362.90 L409.17,365.34 L412.05,367.86 L414.94,370.45 L417.82,373.11 L420.70,375.85 L423.59,378.67 L426.47,381.56 L429.35,384.52 L432.24,387.56 L435.12,390.68 L438.00,393.86 L440.89,397.12 L443.77,400.46 L446.66,403.87 L449.54,407.36 L452.42,410.92 L455.31,414.55 L458.19,418.26 L461.07,422.04 L463.96,425.90 L466.84,429.84 L469.72,433.84 L472.61,437.92" fill="none" stroke="#000" stroke-width="1.4" stroke-dasharray="7.5,1.4"/>
<rect x="297.75" y="330.54" width="6.4" height="6.4" fill="#000"/>
<rect x="304.61" y="284.02" width="6.4" height="6.4" fill="#000"/>
<rect x="328.25" y="322.79" width="6.4" height="6.4" fill="#000"/>
<rect x="358.03" y="265.41" width="6.4" height="6.4" fill="#000"/>
<rect x="363.45" y="331.58" width="6.4" height="6.4" fill="#000"/>
<rect x="389.26" y="322.27" width="6.4" height="6.4" fill="#000"/>
<rect x="389.26" y="336.02" width="6.4" height="6.4" fill="#000"/>
<rect x="404.06" y="342.95" width="6.4" height="6.4" fill="#000"/>
<rect x="410.74" y="357.42" width="6.4" height="6.4" fill="#000"/>
<rect x="399.19" y="369.83" width="6.4" height="6.4" fill="#000"/>
<rect x="426.08" y="365.70" width="6.4" height="6.4" fill="#000"/>
<rect x="430.78" y="391.03" width="6.4" height="6.4" fill="#000"/>
<rect x="448.83" y="382.24" width="6.4" height="6.4" fill="#000"/>
<rect x="480.95" y="395.68" width="6.4" height="6.4" fill="#000"/>
<rect x="361.93" y="272.26" width="5.10" height="5.10" fill="#fff" stroke="#000" stroke-width="1.5"/>
<rect x="374.93" y="316.72" width="5.10" height="5.10" fill="#fff" stroke="#000" stroke-width="1.5"/>
<rect x="427.27" y="360.14" width="5.10" height="5.10" fill="#fff" stroke="#000" stroke-width="1.5"/>
<rect x="447.31" y="353.94" width="5.10" height="5.10" fill="#fff" stroke="#000" stroke-width="1.5"/>
<rect x="457.60" y="372.55" width="5.10" height="5.10" fill="#fff" stroke="#000" stroke-width="1.5"/>
<rect x="449.11" y="375.65" width="5.10" height="5.10" fill="#fff" stroke="#000" stroke-width="1.5"/>
<rect x="443.52" y="382.37" width="5.10" height="5.10" fill="#fff" stroke="#000" stroke-width="1.5"/>
<rect x="457.60" y="382.37" width="5.10" height="5.10" fill="#fff" stroke="#000" stroke-width="1.5"/>
<rect x="473.30" y="377.72" width="5.10" height="5.10" fill="#fff" stroke="#000" stroke-width="1.5"/>
<rect x="476.91" y="385.99" width="5.10" height="5.10" fill="#fff" stroke="#000" stroke-width="1.5"/>
<rect x="484.31" y="400.46" width="5.10" height="5.10" fill="#fff" stroke="#000" stroke-width="1.5"/>
<rect x="496.41" y="392.19" width="5.10" height="5.10" fill="#fff" stroke="#000" stroke-width="1.5"/>
<rect x="298.60" y="253.10" width="216.60" height="186.10" fill="none" stroke="#000" stroke-width="1.5"/>
<text x="303.80" y="415.50" font-size="9.5" text-anchor="start" >R<tspan font-size="5.5" dy="-3.2">2</tspan><tspan dy="3.2"> = 0.727</tspan></text>
<text x="303.80" y="426.80" font-size="9.5" text-anchor="start" >P = 0.0009</text>
<text x="406.60" y="468.80" font-size="9.5" text-anchor="middle" >RBC<tspan font-size="6" dy="-3.5">+</tspan><tspan dy="3.5"> (x10</tspan><tspan font-size="6" dy="-3.5">-12</tspan><tspan dy="3.5">/L)</tspan></text>
<text x="0.00" y="0.00" font-size="9.5" text-anchor="middle" transform="translate(274.3,342.6) rotate(-90)">Spleen wt / body wt (%)</text>
<line x1="158.40" y1="680.39" x2="161.60" y2="680.39" stroke="#000" stroke-width="1.3" />
<line x1="158.40" y1="633.96" x2="161.60" y2="633.96" stroke="#000" stroke-width="1.3" />
<line x1="158.40" y1="587.54" x2="161.60" y2="587.54" stroke="#000" stroke-width="1.3" />
<line x1="158.40" y1="541.11" x2="161.60" y2="541.11" stroke="#000" stroke-width="1.3" />
<text x="152.60" y="684.79" font-size="9.5" text-anchor="end" >20</text>
<text x="152.60" y="638.86" font-size="9.5" text-anchor="end" >40</text>
<text x="152.60" y="590.84" font-size="9.5" text-anchor="end" >60</text>
<text x="152.60" y="541.71" font-size="9.5" text-anchor="end" >80</text>
<line x1="158.40" y1="657.17" x2="161.60" y2="657.17" stroke="#000" stroke-width="1.3" />
<line x1="158.40" y1="610.75" x2="161.60" y2="610.75" stroke="#000" stroke-width="1.3" />
<line x1="158.40" y1="564.33" x2="161.60" y2="564.33" stroke="#000" stroke-width="1.3" />
<line x1="161.60" y1="703.60" x2="161.60" y2="706.60" stroke="#000" stroke-width="1.3" />
<text x="161.60" y="717.10" font-size="9.5" text-anchor="middle" >0.2</text>
<line x1="206.20" y1="703.60" x2="206.20" y2="706.60" stroke="#000" stroke-width="1.3" />
<text x="206.20" y="717.10" font-size="9.5" text-anchor="middle" >0.4</text>
<line x1="250.80" y1="703.60" x2="250.80" y2="706.60" stroke="#000" stroke-width="1.3" />
<text x="250.80" y="717.10" font-size="9.5" text-anchor="middle" >0.6</text>
<line x1="295.40" y1="703.60" x2="295.40" y2="706.60" stroke="#000" stroke-width="1.3" />
<text x="295.40" y="717.10" font-size="9.5" text-anchor="middle" >0.8</text>
<line x1="340.00" y1="703.60" x2="340.00" y2="706.60" stroke="#000" stroke-width="1.3" />
<text x="340.00" y="717.10" font-size="9.5" text-anchor="middle" >1.0</text>
<line x1="384.60" y1="703.60" x2="384.60" y2="706.60" stroke="#000" stroke-width="1.3" />
<text x="384.60" y="717.10" font-size="9.5" text-anchor="middle" >1.2</text>
<path d="M196.61,660.42 L201.10,657.64 L205.60,654.85 L210.09,652.07 L214.58,649.28 L219.08,646.50 L223.57,643.71 L228.07,640.93 L232.56,638.14 L237.05,635.36 L241.55,632.57 L246.04,629.79 L250.53,627.00 L255.03,624.22 L259.52,621.43 L264.01,618.64 L268.51,615.86 L273.00,613.07 L277.49,610.29 L281.99,607.50 L286.48,604.72 L290.97,601.93 L295.47,599.15 L299.96,596.36 L304.45,593.58 L308.95,590.79 L313.44,588.01 L317.93,585.22 L322.43,582.44 L326.92,579.65 L331.41,576.86 L335.91,574.08 L340.40,571.29 L344.89,568.51 L349.39,565.72 L353.88,562.94 L358.38,560.15 L362.87,557.37 L367.36,554.58 L371.86,551.80 L376.35,549.01" fill="none" stroke="#000" stroke-width="1.4"/>
<path d="M196.61,626.99 L201.10,625.25 L205.60,623.50 L210.09,621.74 L214.58,619.98 L219.08,618.20 L223.57,616.41 L228.07,614.60 L232.56,612.78 L237.05,610.95 L241.55,609.09 L246.04,607.22 L250.53,605.32 L255.03,603.39 L259.52,601.43 L264.01,599.44 L268.51,597.41 L273.00,595.33 L277.49,593.21 L281.99,591.03 L286.48,588.79 L290.97,586.48 L295.47,584.09 L299.96,581.63 L304.45,579.08 L308.95,576.44 L313.44,573.71 L317.93,570.88 L322.43,567.96 L326.92,564.95 L331.41,561.85 L335.91,558.67 L340.40,555.42 L344.89,552.10 L349.39,548.71 L353.88,545.27 L358.38,541.78 L362.87,538.24 L367.36,534.67 L371.86,531.06 L376.35,527.42" fill="none" stroke="#000" stroke-width="1.4" stroke-dasharray="7.5,1.3"/>
<path d="M196.61,693.86 L201.10,690.03 L205.60,686.21 L210.09,682.39 L214.58,678.59 L219.08,674.80 L223.57,671.02 L228.07,667.25 L232.56,663.50 L237.05,659.77 L241.55,656.05 L246.04,652.36 L250.53,648.69 L255.03,645.04 L259.52,641.43 L264.01,637.85 L268.51,634.31 L273.00,630.82 L277.49,627.37 L281.99,623.98 L286.48,620.65 L290.97,617.39 L295.47,614.20 L299.96,611.09 L304.45,608.07 L308.95,605.14 L313.44,602.30 L317.93,599.56 L322.43,596.91 L326.92,594.35 L331.41,591.88 L335.91,589.49 L340.40,587.17 L344.89,584.92 L349.39,582.73 L353.88,580.60 L358.38,578.52 L362.87,576.49 L367.36,574.49 L371.86,572.53 L376.35,570.60" fill="none" stroke="#000" stroke-width="1.4" stroke-dasharray="7.5,1.3"/>
<rect x="194.19" y="668.91" width="4.85" height="4.85" fill="#fff" stroke="#000" stroke-width="1.35"/>
<rect x="254.40" y="637.80" width="4.85" height="4.85" fill="#fff" stroke="#000" stroke-width="1.35"/>
<rect x="281.38" y="620.16" width="4.85" height="4.85" fill="#fff" stroke="#000" stroke-width="1.35"/>
<rect x="295.20" y="639.89" width="4.85" height="4.85" fill="#fff" stroke="#000" stroke-width="1.35"/>
<rect x="373.25" y="567.94" width="4.85" height="4.85" fill="#fff" stroke="#000" stroke-width="1.35"/>
<rect x="230.97" y="596.11" width="6.2" height="6.2" fill="#000"/>
<rect x="284.05" y="567.72" width="6.2" height="6.2" fill="#000"/>
<rect x="315.05" y="583.74" width="6.2" height="6.2" fill="#000"/>
<rect x="358.98" y="541.96" width="6.2" height="6.2" fill="#000"/>
<rect x="360.98" y="550.08" width="6.2" height="6.2" fill="#000"/>
<circle cx="344.91" cy="550.17" r="3.2" fill="#000"/>
<circle cx="370.55" cy="542.51" r="3.2" fill="#000"/>
<circle cx="374.57" cy="553.18" r="3.2" fill="#000"/>
<path d="M161.6,517.9 H384.6 V703.6 H161.6 Z" fill="none" stroke="#000" stroke-width="1.4"/>
<text x="175.70" y="536.90" font-size="9.5" text-anchor="start" >R<tspan font-size="5.5" dy="-3.2">2</tspan><tspan dy="3.2"> = 0.849</tspan></text>
<text x="175.70" y="548.90" font-size="9.5" text-anchor="start" >P = 0.0002</text>
<text x="280.30" y="731.50" font-size="9.5" text-anchor="middle" >Spleen wt / body wt (%)</text>
<text x="0.00" y="0.00" font-size="9.5" text-anchor="middle" transform="translate(134.5,611) rotate(-90)">Erythroid cells (%)</text>
<text x="121.20" y="518.00" font-size="17" text-anchor="start" >B</text>
</svg></body></html>
